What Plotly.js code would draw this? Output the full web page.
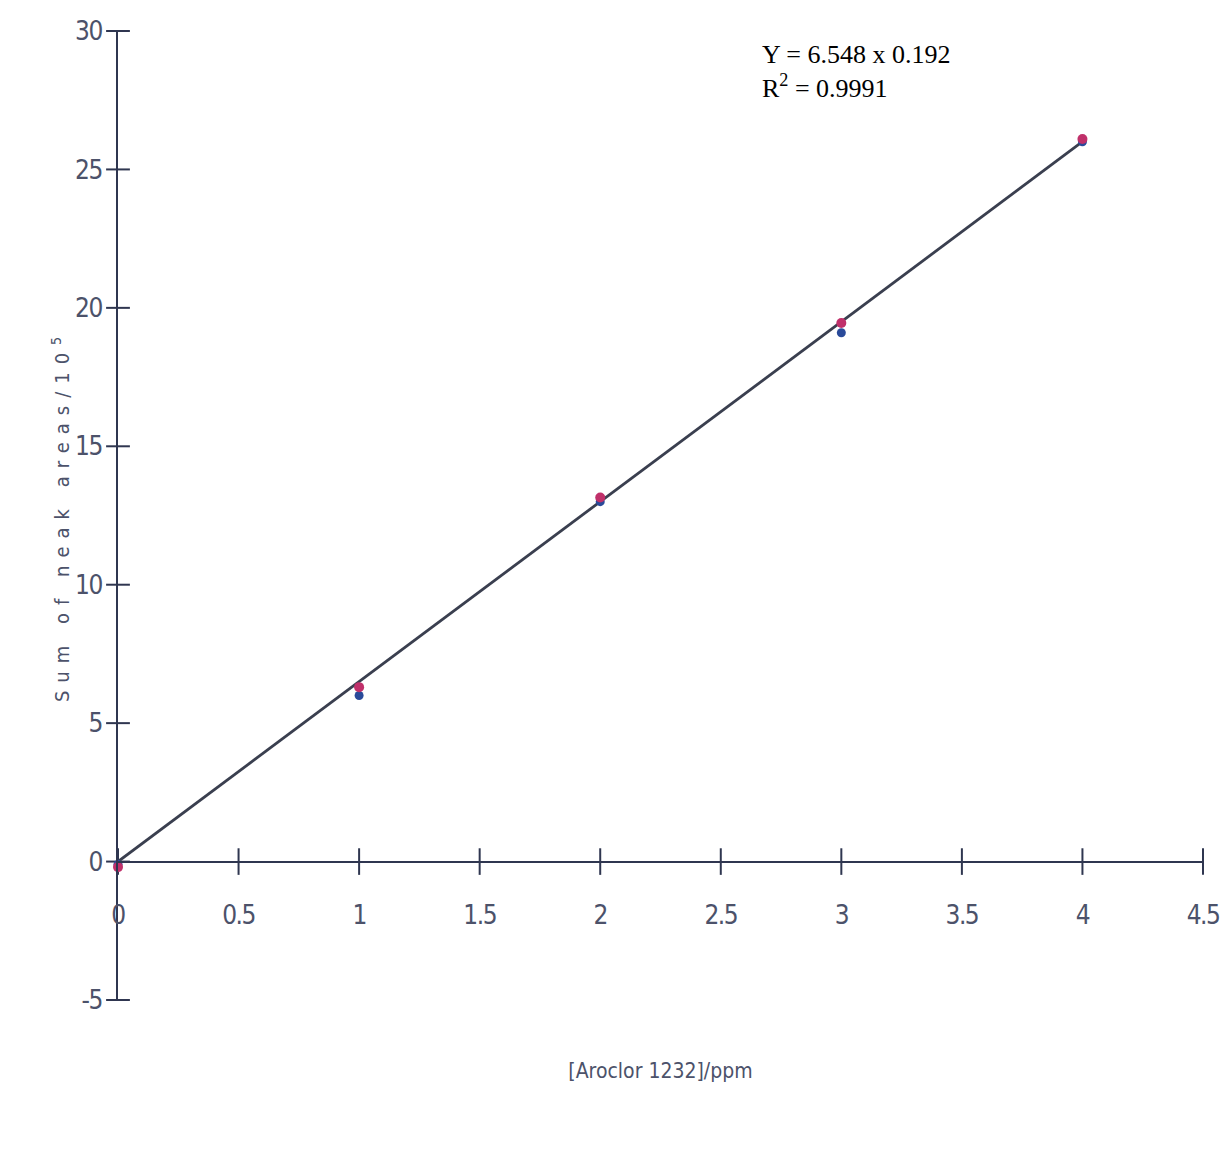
<!DOCTYPE html>
<html>
<head>
<meta charset="utf-8">
<script src="https://cdn.plot.ly/plotly-3.0.1.min.js"></script>
<style>
  body { margin: 0; background: #fff; }
  #chart { width: 1222px; height: 1166px; }
  .ytitle { letter-spacing: 8px; }
  .xtick text, .ytick text { letter-spacing: -1.5px; }
</style>
</head>
<body>
<div id="chart"></div>
<script>
// Data
const concentration = [0, 1, 2, 3, 4];
const seriesBlue = [-0.1, 6.0, 13.0, 19.1, 26.0];
const seriesMagenta = [-0.2, 6.3, 13.15, 19.45, 26.1];
const fitX = [0, 4];
const fitY = [0, 26.0];
const xTicks = [0, 0.5, 1, 1.5, 2, 2.5, 3, 3.5, 4, 4.5];
const xTickLabels = ['0', '0.5', '1', '1.5', '2', '2.5', '3', '3.5', '4', '4.5'];
const yTicks = [-5, 0, 5, 10, 15, 20, 25, 30];
const yTickLabels = ['-5', '0', '5', '10', '15', '20', '25', '30'];
const equationText = 'Y = 6.548 x 0.192<br>R<sup>2</sup> = 0.9991';

const axisColor = '#2f3650';
const labelColor = '#4c526a';
const narrow = '"DejaVu Sans Condensed", "Liberation Sans Narrow", "Arial Narrow", "Liberation Sans", Arial, sans-serif';

const xRange = [0, 4.5];
const yRange = [-5, 30];

// crossing tick marks placed on the axes through the axes' own scales
const xTickBaseline = xTicks.map(() => 0);
const yTickBaseline = yTicks.map(() => 0);

const traces = [
  {
    x: xTicks, y: xTickBaseline, mode: 'markers', type: 'scatter', cliponaxis: false,
    marker: { symbol: 'line-ns-open', size: 19, color: axisColor, line: { color: axisColor, width: 2 } },
    hoverinfo: 'skip'
  },
  {
    x: yTickBaseline, y: yTicks, mode: 'markers', type: 'scatter', cliponaxis: false,
    marker: { symbol: 'line-ew-open', size: 17, color: axisColor, line: { color: axisColor, width: 2 } },
    hoverinfo: 'skip'
  },
  {
    x: fitX, y: fitY, mode: 'lines', type: 'scatter',
    line: { color: '#3a3f4f', width: 2.8 }, hoverinfo: 'skip'
  },
  {
    x: concentration, y: seriesBlue, mode: 'markers', type: 'scatter', cliponaxis: false,
    marker: { color: '#2a4a9a', size: 9, symbol: 'circle' }
  },
  {
    x: concentration, y: seriesMagenta, mode: 'markers', type: 'scatter', cliponaxis: false,
    marker: { color: '#c0306a', size: 10, symbol: 'circle' }
  }
];

const yPos = 5 / 35;

const layout = {
  width: 1222, height: 1166,
  paper_bgcolor: '#ffffff', plot_bgcolor: '#ffffff',
  showlegend: false,
  margin: { l: 118, r: 19, t: 31, b: 166 },
  xaxis: {
    range: xRange, anchor: 'free', position: yPos,
    showgrid: false, zeroline: false,
    showline: true, linecolor: axisColor, linewidth: 2,
    ticks: '',
    tickvals: xTicks, ticktext: xTickLabels,
    ticklabelstandoff: 30,
    tickfont: { family: narrow, size: 26, color: labelColor },
    title: {
      text: '[Aroclor 1232]/ppm', standoff: 134,
      font: { family: narrow, size: 21, color: labelColor }
    }
  },
  yaxis: {
    range: yRange,
    showgrid: false, zeroline: false,
    showline: true, linecolor: axisColor, linewidth: 2,
    ticks: '',
    tickvals: yTicks, ticktext: yTickLabels,
    ticklabelstandoff: 9,
    tickfont: { family: narrow, size: 26, color: labelColor },
    title: {
      text: 'Sum of neak areas/10<sup>5</sup>', standoff: 0,
      font: { family: narrow, size: 20, color: labelColor }
    }
  },
  annotations: [
    {
      xref: 'paper', yref: 'paper', x: 0.592, y: 0.993,
      xanchor: 'left', yanchor: 'top', align: 'left', showarrow: false,
      text: equationText,
      font: { family: '"Liberation Serif", "Times New Roman", serif', size: 26, color: '#000000' }
    }
  ]
};

Plotly.newPlot('chart', traces, layout, { staticPlot: true });
</script>
</body>
</html>
